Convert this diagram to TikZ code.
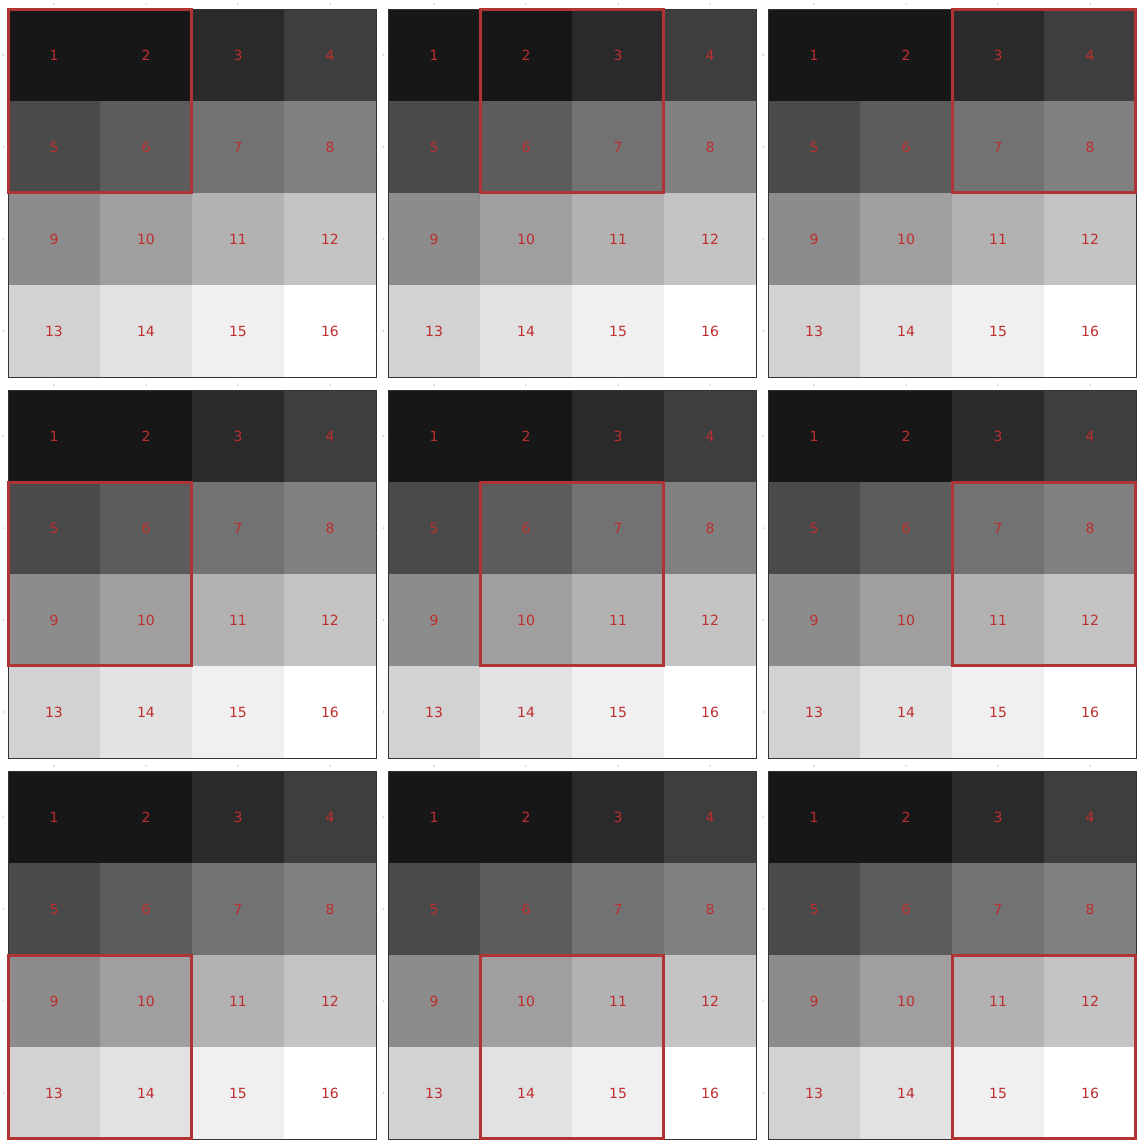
\documentclass[tikz,border=0pt]{standalone}
\usepackage{fontspec}
\setmainfont{DejaVu Sans}
\definecolor{numred}{HTML}{BE2E2E}
\definecolor{boxred}{HTML}{B03434}
\definecolor{framec}{HTML}{333333}
\definecolor{tickc}{HTML}{9A9A9A}
\definecolor{g1}{RGB}{23,23,23}
\definecolor{g2}{RGB}{23,23,23}
\definecolor{g3}{RGB}{42,42,42}
\definecolor{g4}{RGB}{62,62,62}
\definecolor{g5}{RGB}{74,74,74}
\definecolor{g6}{RGB}{92,92,92}
\definecolor{g7}{RGB}{114,114,114}
\definecolor{g8}{RGB}{128,128,128}
\definecolor{g9}{RGB}{140,140,140}
\definecolor{g10}{RGB}{160,158,159}
\definecolor{g11}{RGB}{178,178,178}
\definecolor{g12}{RGB}{196,196,196}
\definecolor{g13}{RGB}{210,210,210}
\definecolor{g14}{RGB}{226,226,226}
\definecolor{g15}{RGB}{240,240,240}
\definecolor{g16}{RGB}{255,255,255}
\begin{document}
\begin{tikzpicture}[x=1pt,y=-1pt,
  cellnum/.style={text=numred, font=\fontsize{14}{16}\selectfont, inner sep=0pt},
  ticklab/.style={text=tickc, font=\fontsize{3}{3}\selectfont, inner sep=0pt},
  panelframe/.style={draw=framec, line width=0.9},
  windowbox/.style={draw=boxred, line width=2.2}]
\useasboundingbox (0,0) rectangle (1140,1144);
\fill[white] (0,0) rectangle (1140,1144);
\foreach \pr in {0,1,2}{
  \foreach \pc in {0,1,2}{
    \pgfmathsetmacro\ox{8+380*\pc}
    \pgfmathsetmacro\oy{9+381*\pr}
    \foreach \i in {0,1,2,3}{
      \foreach \j in {0,1,2,3}{
        \pgfmathtruncatemacro\n{4*\i+\j+1}
        \fill[g\n] (\ox+92*\j,\oy+92*\i) rectangle (\ox+92*\j+92,\oy+92*\i+92);
        \node[cellnum] (c-\pr-\pc-\n) at (\ox+92*\j+46,\oy+92*\i+46) {\n};
      }
    }
    \foreach \k in {0,1,2,3}{
      \node[ticklab] (tx-\pr-\pc-\k) at (\ox+92*\k+46,\oy-4.5) {\k};
      \node[ticklab] (ty-\pr-\pc-\k) at (\ox-4.5,\oy+92*\k+46) {\k};
    }
    \draw[panelframe] (\ox,\oy) rectangle (\ox+368,\oy+368);
    \draw[windowbox] (\ox+92*\pc+0.5,\oy+92*\pr+0.5) rectangle (\ox+92*\pc+184-0.5,\oy+92*\pr+184-0.5);
  }
}
\end{tikzpicture}
\end{document}
